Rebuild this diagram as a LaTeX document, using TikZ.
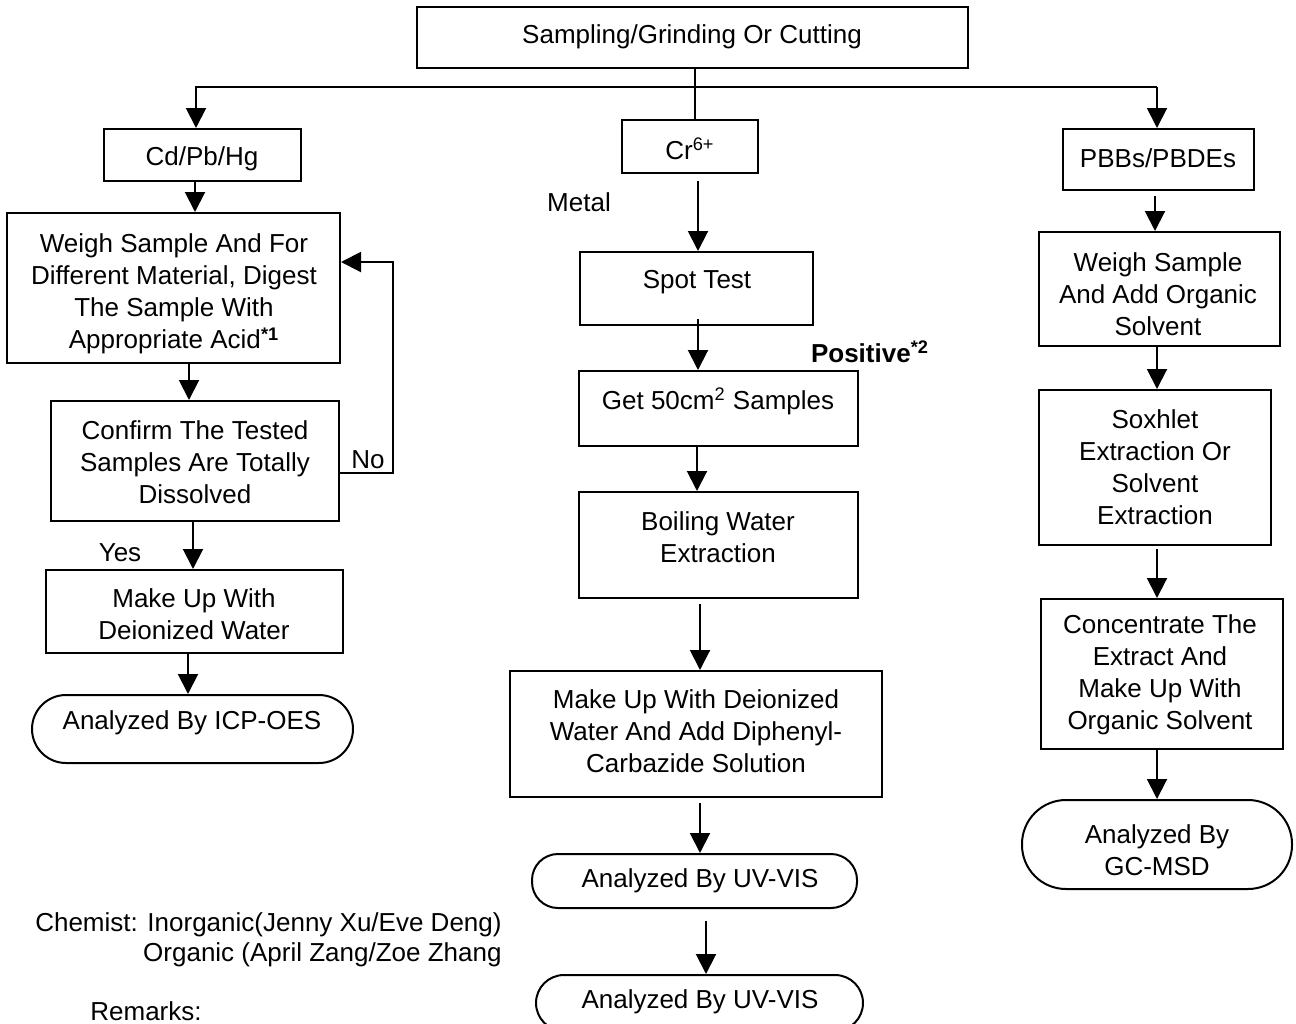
\documentclass[tikz,border=0pt]{standalone}
\usepackage{fontspec}
\setmainfont{Liberation Sans}
\usetikzlibrary{arrows.meta,fit}
\begin{document}
\begin{tikzpicture}[x=0.5pt,y=-0.5pt,
  txt/.style={font=\fontsize{13}{16}\selectfont},
  box/.style={draw,line width=1pt,inner sep=0pt},
  bt/.style={txt,inner sep=0pt,align=center},
  arr/.style={line width=1pt,-{Triangle[length=10pt,width=10pt]}},
  ln/.style={line width=1pt},
  lbl/.style={txt,inner sep=0pt}]
\useasboundingbox (0,0) rectangle (1296,1023);

% ---- top
\node[box,fit={(417,7)(968,68)}] (top) {};
\node[bt] (top-t) at (692,37) {Sampling/Grinding Or Cutting};

% ---- left column
\node[box,fit={(104,129)(301,181)}] (cd) {};
\node[bt] (cd-t) at (202,159) {Cd/Pb/Hg};
\node[box,fit={(7,213)(340,363)}] (weigh) {};
\node[bt] (weigh-t) at (174,294) {Weigh Sample And For\\Different Material, Digest\\The Sample With\\Appropriate Acid\textsuperscript{\textbf{*1}}};
\node[box,fit={(51,401)(339,521)}] (confirm) {};
\node[bt] (confirm-t) at (195,462) {Confirm The Tested\\Samples Are Totally\\Dissolved};
\node[box,fit={(46,570)(343,653)}] (makeup) {};
\node[bt] (makeup-t) at (194,614) {Make Up With\\Deionized Water};
\node[box,rounded corners=17pt,fit={(32,695)(353,763)}] (icp) {};
\node[bt] (icp-t) at (192,723) {Analyzed By ICP-OES};

% ---- middle column
\node[box,fit={(622,120)(758,173)}] (cr) {};
\node[bt] (cr-t) at (690,149) {Cr\textsuperscript{6+}};
\node[box,fit={(580,252)(813,325)}] (spot) {};
\node[bt] (spot-t) at (697,282) {Spot Test};
\node[box,fit={(579,371)(858,446)}] (get) {};
\node[bt] (get-t) at (718,401) {Get 50cm\textsuperscript{2} Samples};
\node[box,fit={(579,492)(858,598)}] (boil) {};
\node[bt] (boil-t) at (718,537) {Boiling Water\\Extraction};
\node[box,fit={(510,671)(882,797)}] (diph) {};
\node[bt] (diph-t) at (696,731) {Make Up With Deionized\\Water And Add Diphenyl-\\Carbazide Solution};
\node[box,rounded corners=13pt,fit={(532,854)(857,908)}] (uv1) {};
\node[bt] (uv1-t) at (700,881) {Analyzed By UV-VIS};
\node[box,rounded corners=14pt,fit={(536,975)(863,1031)}] (uv2) {};
\node[bt] (uv2-t) at (700,1002) {Analyzed By UV-VIS};

% ---- right column
\node[box,fit={(1063,129)(1254,190)}] (pbb) {};
\node[bt] (pbb-t) at (1158,158) {PBBs/PBDEs};
\node[box,fit={(1039,232)(1280,346)}] (rweigh) {};
\node[bt] (rweigh-t) at (1158,294) {Weigh Sample\\And Add Organic\\Solvent};
\node[box,fit={(1039,390)(1271,545)}] (sox) {};
\node[bt] (sox-t) at (1155,467) {Soxhlet\\Extraction Or\\Solvent\\Extraction};
\node[box,fit={(1041,599)(1283,749)}] (conc) {};
\node[bt] (conc-t) at (1160,675) {Concentrate The\\Extract And\\Make Up With\\Organic Solvent};
\node[box,rounded corners=22pt,fit={(1022,800)(1292,889)}] (gc) {};
\node[bt] (gc-t) at (1157,850) {Analyzed By\\GC-MSD};

% ---- labels
\node[lbl] (no) at (368,460) {No};
\node[lbl] (yes) at (120,553) {Yes};
\node[lbl] (metal) at (579,202) {Metal};
\node[lbl,font=\fontsize{13}{16}\selectfont\bfseries] (pos) at (870,352) {Positive\textsuperscript{*2}};
\node[lbl,anchor=east] (chem1) at (502,925) {Chemist: Inorganic(Jenny Xu/Eve Deng)};
\node[lbl,anchor=east] (chem2) at (502,955) {Organic (April Zang/Zoe Zhang};
\node[lbl,anchor=base west] (rem) at (90,1020) {Remarks:};

% ---- helper coordinates
\coordinate (jl) at (196,87);
\coordinate (jr) at (1157,87);
\coordinate (xm) at (695,0);
\coordinate (xa) at (195,0);
\coordinate (xb) at (189,0);
\coordinate (xc) at (193,0);
\coordinate (xd) at (188,0);
\coordinate (xe) at (697,0);
\coordinate (xf) at (698,0);
\coordinate (xg) at (700,0);
\coordinate (xh) at (706,0);
\coordinate (xr) at (1157,0);
\coordinate (xs) at (1155,0);
\coordinate (fb1) at (393,473);
\coordinate (fb2) at (393,262);

% ---- connectors
\draw[arr] (jr) -- (jl) -- (cd.north -| jl);
\draw[arr] (jr) -- (pbb.north -| jr);
\draw[ln] (top.south -| xm) -- (cr.north -| xm);

\draw[arr] (cd.south -| xa) -- (weigh.north -| xa);
\draw[arr] (weigh.south -| xb) -- (confirm.north -| xb);
\draw[arr] (confirm.south -| xc) -- (makeup.north -| xc);
\draw[arr] (makeup.south -| xd) -- (icp.north -| xd);
\draw[arr] (confirm.east |- fb1) -- (fb1) -- (fb2) -- (weigh.east |- fb2);

\draw[arr,shorten <=3.5pt] (cr.south -| xf) -- (spot.north -| xf);
\draw[arr] ([yshift=3.5pt]spot.south -| xf) -- (get.north -| xf);
\draw[arr] (get.south -| xe) -- (boil.north -| xe);
\draw[arr,shorten <=2.5pt] (boil.south -| xg) -- (diph.north -| xg);
\draw[arr,shorten <=2.5pt] (diph.south -| xg) -- (uv1.north -| xg);
\draw[arr,shorten <=6pt] (uv1.south -| xh) -- (uv2.north -| xh);

\draw[arr,shorten <=2.5pt] (pbb.south -| xs) -- (rweigh.north -| xs);
\draw[arr] (rweigh.south -| xr) -- (sox.north -| xr);
\draw[arr,shorten <=1.5pt] (sox.south -| xr) -- (conc.north -| xr);
\draw[arr] (conc.south -| xr) -- (gc.north -| xr);
\end{tikzpicture}
\end{document}
